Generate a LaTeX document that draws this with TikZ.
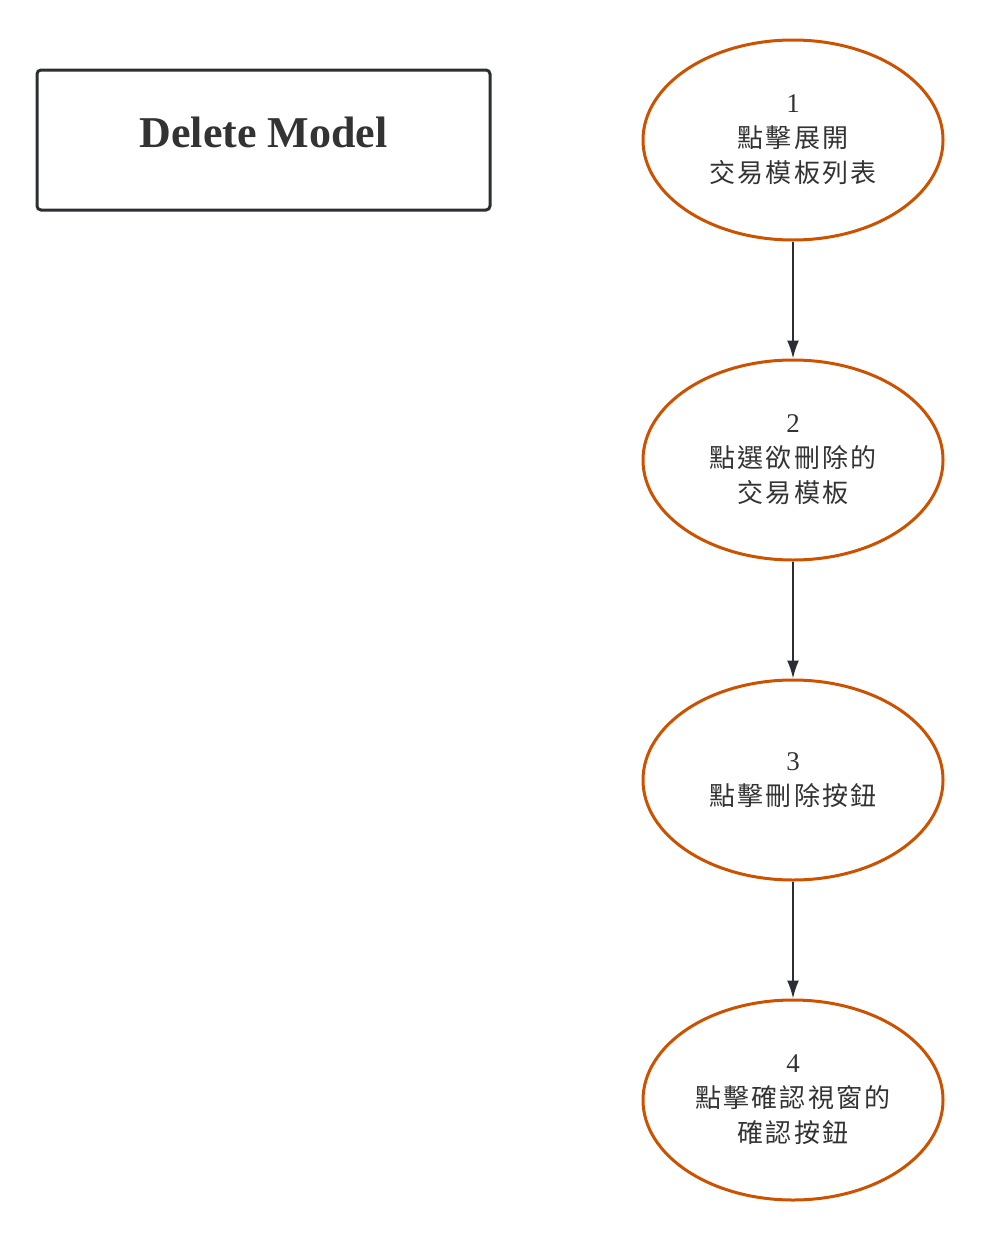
\documentclass[tikz,border=0pt]{standalone}
\usepackage{fontspec}
\setmainfont{Liberation Serif}
\newfontfamily\cjkfont[LetterSpace=8]{Noto Sans CJK TC}
\usetikzlibrary{arrows.meta,shapes.geometric}

\definecolor{inkdark}{HTML}{2B2E33}
\definecolor{textgray}{HTML}{333333}
\definecolor{ovalorange}{HTML}{CC5200}

\begin{document}
\begin{tikzpicture}[x=1pt,y=1pt,>={Latex[length=18pt,width=12pt]},
    oval/.style={draw=ovalorange, line width=3pt, ellipse, minimum width=300pt,
      minimum height=200pt, inner sep=0pt, align=center, text=textgray,
      font=\cjkfont\fontsize{26}{35}\selectfont},
    flow/.style={->, draw=inkdark, line width=2pt}]
    \useasboundingbox (0,0) rectangle (983,-1253);

    % Draw the title box
    \node (title) [draw=inkdark, line width=3pt, rounded corners=4pt,
      minimum width=453pt, minimum height=140pt, text depth=16pt, text=textgray,
      font=\bfseries\fontsize{44}{50}\selectfont] at (263.5,-140) {Delete Model};

    % Draw the steps
    \def\num#1{{\rmfamily\fontsize{27}{35}\selectfont #1}}
    \node (one) [oval] at (793,-140) {\num{1}\\點擊展開\\交易模板列表};
    \node (two) [oval] at (793,-460) {\num{2}\\點選欲刪除的\\交易模板};
    \node (three) [oval] at (793,-780) {\num{3}\\點擊刪除按鈕};
    \node (four) [oval] at (793,-1100) {\num{4}\\點擊確認視窗的\\確認按鈕};

    % Draw the connectors
    \draw[flow] (one) -- (two);
    \draw[flow] (two) -- (three);
    \draw[flow] (three) -- (four);
\end{tikzpicture}
\end{document}
